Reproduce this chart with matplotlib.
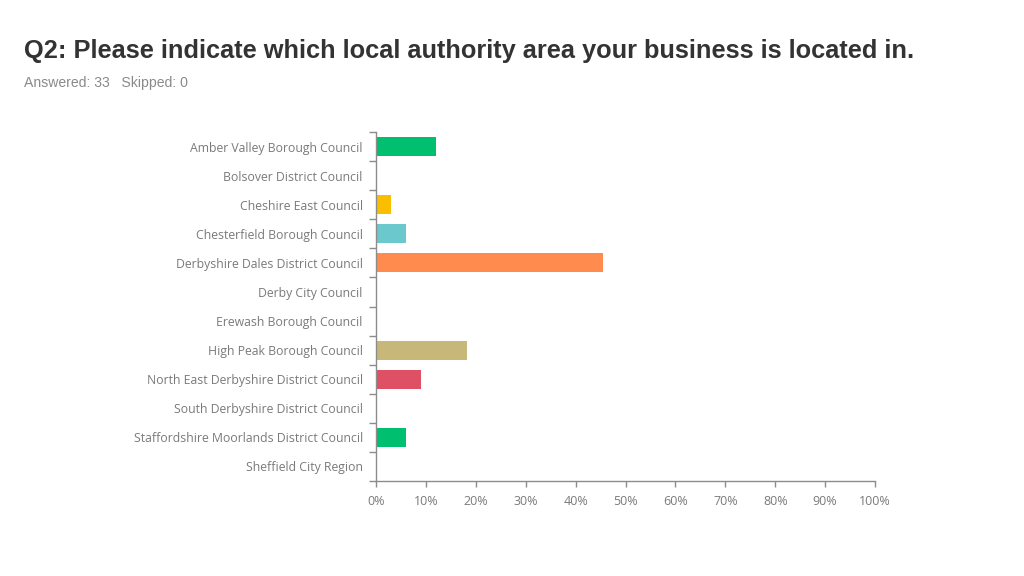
import matplotlib
matplotlib.use('Agg')
import matplotlib.pyplot as plt
from matplotlib.ticker import FuncFormatter, MultipleLocator, FixedLocator
import numpy as np

# Survey answers (share of 33 respondents)
categories = [
    'Amber Valley Borough Council',
    'Bolsover District Council',
    'Cheshire East Council',
    'Chesterfield Borough Council',
    'Derbyshire Dales District Council',
    'Derby City Council',
    'Erewash Borough Council',
    'High Peak Borough Council',
    'North East Derbyshire District Council',
    'South Derbyshire District Council',
    'Staffordshire Moorlands District Council',
    'Sheffield City Region',
]
counts = [4, 0, 1, 2, 15, 0, 0, 6, 3, 0, 2, 0]
answered = 33
skipped = 0
bar_colors = ['#00bf6f', '#00bf6f', '#f9be00', '#6bc8cd', '#ff8b4f', '#ff8b4f',
              '#ff8b4f', '#c7b879', '#de5063', '#de5063', '#00bf6f', '#00bf6f']

values = [c / answered for c in counts]

fig = plt.figure(figsize=(10.24, 5.76), dpi=100)
ax = fig.add_axes([376 / 1024, 1 - 481 / 576, 499 / 1024, 349 / 576])

ypos = np.arange(len(categories))
ax.barh(ypos, values, height=0.66, color=bar_colors)
ax.set_ylim(len(categories) - 0.5, -0.5)
ax.set_xlim(0, 1)

axis_grey = '#8c8c8c'
label_grey = '#7a7a7a'
ax.set_yticks(ypos)
ax.set_yticklabels(categories, fontfamily='Open Sans', fontsize=8.85, color=label_grey)
ax.yaxis.set_minor_locator(FixedLocator(np.arange(-0.5, len(categories), 1)))
ax.tick_params(axis='y', which='major', length=0, pad=9.5)
ax.tick_params(axis='y', which='minor', length=5, color=axis_grey, width=1)

ax.xaxis.set_major_locator(MultipleLocator(0.1))
ax.xaxis.set_major_formatter(FuncFormatter(lambda v, p: '%d%%' % round(v * 100)))
ax.tick_params(axis='x', length=4, color=axis_grey, width=1, pad=6, labelcolor=label_grey)
for lab in ax.get_xticklabels():
    lab.set_fontfamily('Open Sans')
    lab.set_fontsize(9)

for side in ['top', 'right']:
    ax.spines[side].set_visible(False)
for side in ['left', 'bottom']:
    ax.spines[side].set_color(axis_grey)
    ax.spines[side].set_linewidth(1)

fig.text(24 / 1024, 1 - 51 / 576,
         'Q2: Please indicate which local authority area your business is located in.',
         fontfamily='Liberation Sans', fontweight='bold', fontsize=18.3, color='#333333',
         va='center', ha='left')
fig.text(24 / 1024, 1 - 83 / 576, 'Answered: %d   Skipped: %d' % (answered, skipped),
         fontfamily='Liberation Sans', fontsize=10.1, color='#8a8a8a', va='center', ha='left')

fig.savefig('out.png', dpi=100)
